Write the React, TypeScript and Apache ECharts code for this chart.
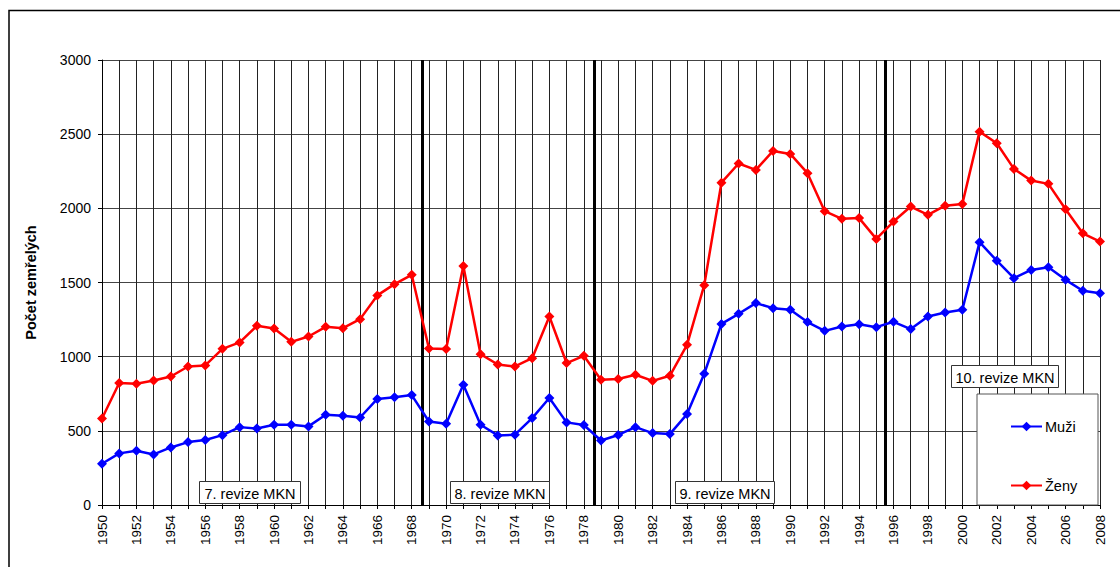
import React, { useEffect, useRef } from "react";
import * as echarts from "echarts";

const years: number[] = [
  1950, 1951, 1952, 1953, 1954, 1955, 1956, 1957, 1958, 1959,
  1960, 1961, 1962, 1963, 1964, 1965, 1966, 1967, 1968, 1969,
  1970, 1971, 1972, 1973, 1974, 1975, 1976, 1977, 1978, 1979,
  1980, 1981, 1982, 1983, 1984, 1985, 1986, 1987, 1988, 1989,
  1990, 1991, 1992, 1993, 1994, 1995, 1996, 1997, 1998, 1999,
  2000, 2001, 2002, 2003, 2004, 2005, 2006, 2007, 2008,
];

const muzi: number[] = [
  278, 348, 366, 341, 388, 424, 438, 471, 525, 516,
  541, 541, 530, 608, 602, 590, 715, 727, 741, 563,
  548, 810, 541, 469, 474, 586, 721, 557, 539, 435,
  472, 525, 485, 478, 613, 885, 1221, 1289, 1361, 1327,
  1316, 1233, 1174, 1203, 1219, 1199, 1235, 1186, 1271, 1298,
  1316, 1772, 1647, 1529, 1585, 1603, 1518, 1444, 1428,
];

const zeny: number[] = [
  583, 822, 817, 839, 866, 934, 941, 1053, 1096, 1208,
  1190, 1100, 1136, 1201, 1192, 1253, 1413, 1489, 1552, 1055,
  1051, 1612, 1017, 947, 934, 990, 1271, 957, 1006, 844,
  849, 878, 837, 871, 1080, 1482, 2173, 2302, 2259, 2387,
  2367, 2237, 1981, 1929, 1934, 1794, 1911, 2012, 1956, 2018,
  2030, 2517, 2439, 2266, 2187, 2165, 1994, 1832, 1776,
];

const revisionBreaks: number[] = [1968.6, 1978.6, 1995.5];
const revisionLabels: string[] = ["7. revize MKN", "8. revize MKN", "9. revize MKN", "10. revize MKN"];
const seriesNames: string[] = ["Muži", "Ženy"];
const yTitle = "Počet zemřelých";

const FONT = "'Liberation Sans', Arial, sans-serif";

export default function App() {
  const ref = useRef<HTMLDivElement>(null);

  useEffect(() => {
    document.body.style.margin = "0";
    if (!ref.current) return;
    const chart = echarts.init(ref.current, undefined, { renderer: "svg" });

    const boxes = [
      { x: 199, y: 481, w: 101, h: 22, text: revisionLabels[0] },
      { x: 450, y: 481, w: 99, h: 22, text: revisionLabels[1] },
      { x: 675, y: 481, w: 99, h: 22, text: revisionLabels[2] },
      { x: 951, y: 365, w: 107, h: 22, text: revisionLabels[3] },
    ];

    const graphic: any[] = [
      {
        type: "rect",
        shape: { x: 9, y: 10.5, width: 1130, height: 580 },
        style: { fill: "none", stroke: "#000", lineWidth: 1.5 },
        silent: true,
        z: 0,
      },
      {
        type: "rect",
        shape: { x: 977, y: 394, width: 121, height: 111 },
        style: { fill: "#fff", stroke: "#555", lineWidth: 1 },
        silent: true,
        z: 5,
      },
    ];
    boxes.forEach((b) => {
      graphic.push({
        type: "rect",
        shape: { x: b.x + 0.5, y: b.y + 0.5, width: b.w, height: b.h },
        style: { fill: "#fff", stroke: "#333", lineWidth: 1 },
        silent: true,
        z: 5,
      });
      graphic.push({
        type: "text",
        x: b.x + b.w / 2 + 0.5,
        y: b.y + b.h / 2 + 1.5,
        style: {
          text: b.text,
          fill: "#000",
          font: `14.5px ${FONT}`,
          align: "center",
          verticalAlign: "middle",
        },
        silent: true,
        z: 6,
      });
    });

    const option: any = {
      animation: false,
      backgroundColor: "#fff",
      textStyle: { fontFamily: FONT },
      grid: { left: 102, right: 20, top: 60, bottom: 62, containLabel: false },
      graphic,
      legend: {
        orient: "vertical",
        left: 1005,
        top: 414,
        itemWidth: 31,
        itemHeight: 12,
        itemGap: 44,
        z: 10,
        textStyle: { color: "#000", fontSize: 14.5, fontFamily: FONT, padding: [0, 0, 0, -2] },
        data: seriesNames,
      },
      xAxis: {
        type: "value",
        min: 1950,
        max: 2008,
        interval: 1,
        axisLine: { show: true, onZero: false, lineStyle: { color: "#000", width: 1 } },
        axisTick: { show: true, length: 4, lineStyle: { color: "#000" } },
        axisLabel: {
          rotate: 90,
          color: "#000",
          fontSize: 13.5,
          fontFamily: FONT,
          margin: 10,
          formatter: (v: number) => (v % 2 === 0 ? String(v) : ""),
        },
        splitLine: { show: true, lineStyle: { color: "#222", width: 1 } },
      },
      yAxis: {
        type: "value",
        min: 0,
        max: 3000,
        interval: 500,
        name: yTitle,
        nameLocation: "middle",
        nameRotate: 90,
        nameGap: 64,
        nameTextStyle: { color: "#000", fontSize: 14.5, fontWeight: "bold", fontFamily: FONT },
        axisLine: { show: true, lineStyle: { color: "#000", width: 1 } },
        axisTick: { show: true, length: 4, lineStyle: { color: "#000" } },
        axisLabel: {
          color: "#000",
          fontSize: 14,
          fontFamily: FONT,
          margin: 11,
          formatter: (v: number) => String(v),
        },
        splitLine: { show: true, lineStyle: { color: "#444", width: 1 } },
      },
      series: [
        {
          name: seriesNames[0],
          type: "line",
          data: years.map((y, i) => [y, muzi[i]]),
          symbol: "diamond",
          symbolSize: 10,
          itemStyle: { color: "#0000ff" },
          lineStyle: { color: "#0000ff", width: 2.5 },
          z: 3,
          markLine: {
            silent: true,
            symbol: ["none", "none"],
            label: { show: false },
            lineStyle: { color: "#000", width: 3, type: "solid" },
            data: revisionBreaks.map((x) => ({ xAxis: x })),
            z: 2,
          },
        },
        {
          name: seriesNames[1],
          type: "line",
          data: years.map((y, i) => [y, zeny[i]]),
          symbol: "diamond",
          symbolSize: 10,
          itemStyle: { color: "#ff0000" },
          lineStyle: { color: "#ff0000", width: 2.5 },
          z: 3,
        },
      ],
    };

    chart.setOption(option);
    return () => chart.dispose();
  }, []);

  return <div ref={ref} style={{ width: 1120, height: 567 }} />;
}
